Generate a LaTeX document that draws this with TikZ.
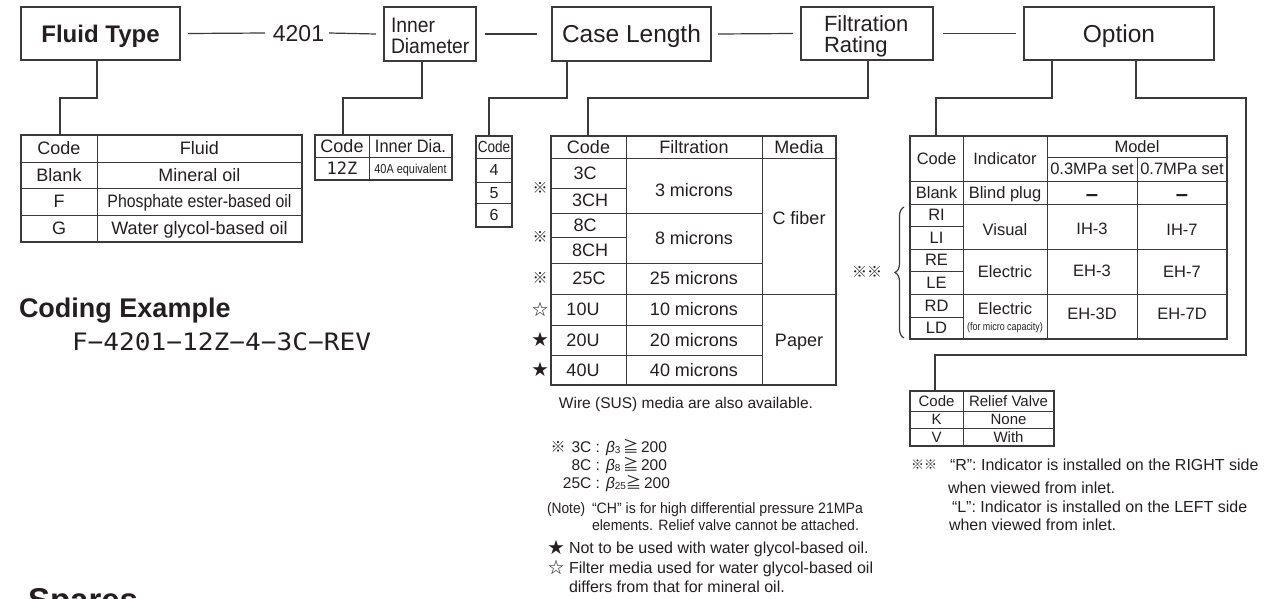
\documentclass[tikz,border=0pt]{standalone}
\usepackage{fontspec}
\usepackage{graphicx}
\setmainfont{Liberation Sans}
\newfontfamily\cjk{Noto Sans CJK JP}
\newfontfamily\monof{DejaVu Sans Mono}
\usetikzlibrary{decorations.pathreplacing,calc}
\definecolor{ink}{HTML}{231F20}
\definecolor{rule}{HTML}{3A3A3A}
\newcommand\fsz[1]{\fontsize{#1}{#1}\selectfont}
\newcommand\nar[2]{\scalebox{#1}[1]{#2}}
\newcommand\bet[1]{\textit{β}\raisebox{-1pt}{\fsz{10}#1}}
\newcommand\geqj{{\cjk ≧}}
\newcommand\T[5][]{\node[txt,sz=#2,#1] (#3) at (#4) {#5};}
\begin{document}
\begin{tikzpicture}[x=1pt,y=-1pt,
  txt/.style={inner sep=0pt,outer sep=0pt,text=ink,text depth=0pt},
  sz/.style={font={\fsz{#1}},text height={0.72*#1}},
  hbox/.style={draw=rule,line width=1.2pt,inner sep=0pt,outer sep=0pt},
  hb/.style={hbox,font={\fsz{#1}},text height={0.72*#1},text depth=0pt,text=ink},
  frame/.style={draw=rule,line width=1.1pt,inner sep=0pt,outer sep=0pt,anchor=north west},
  conn/.style={draw=rule,line width=1.2pt},
  grid/.style={draw=rule,line width=1.0pt}]
\useasboundingbox (0,0) rectangle (1265,598);

% ---------------- header ----------------
\node[hb=24,font={\bfseries\fsz{24}},minimum width=159pt,minimum height=53pt] (fluid) at (100.5,33.5) {Fluid Type};
\T{23}{n4201}{298.5,33}{4201}
\node[hbox,minimum width=92pt,minimum height=54pt] (inner) at (430,34) {};
\T[anchor=west]{21}{innerA}{391,24.5}{\nar{0.92}{Inner}}
\T[anchor=west]{21}{innerB}{391,46}{\nar{0.92}{Diameter}}
\node[hb=24.5,minimum width=159pt,minimum height=54pt] (caseb) at (631.5,34) {Case Length};
\node[hbox,minimum width=132pt,minimum height=53pt] (filt) at (867,33.5) {};
\T[anchor=west]{22}{filtA}{824,23.5}{Filtration}
\T[anchor=west]{22}{filtB}{824,45}{Rating}
\node[hb=24.5,minimum width=190pt,minimum height=53pt] (opt) at (1119,33.5) {Option};

\draw[conn] ([xshift=8pt]fluid.east) -- ([xshift=-8pt]n4201.west);
\draw[conn] ([xshift=5pt]n4201.east) -- ([xshift=-8pt]inner.west);
\draw[conn] ([xshift=9pt]inner.east) -- ([xshift=-15pt]caseb.west);
\draw[conn] ([xshift=7pt]caseb.east) -- ([xshift=-8pt]filt.west);
\draw[conn] ([xshift=10pt]filt.east) -- ([xshift=-8pt]opt.west);

% ---------------- table frames ----------------
\node[frame,minimum width=281pt,minimum height=107pt] (ftab) at (21,135) {};
\node[frame,minimum width=137pt,minimum height=45pt] (itab) at (315,135) {};
\node[frame,minimum width=36pt,minimum height=91pt] (ctab) at (476,136) {};
\node[frame,minimum width=285pt,minimum height=249pt] (ftab2) at (551,136) {};
\node[frame,minimum width=317pt,minimum height=203pt] (otab) at (910,136) {};
\node[frame,minimum width=144pt,minimum height=55pt] (rtab) at (910,391) {};

% ---------------- connectors ----------------
\draw[conn] ([xshift=-3.5pt]fluid.south) -- ++(0,38) -| ([xshift=39pt]ftab.north west);
\draw[conn] ([xshift=-8pt]inner.south) -- ++(0,37) -| ([xshift=28pt]itab.north west);
\draw[conn] ([xshift=15pt]caseb.south west) -- ++(0,37) -| ([xshift=13pt]ctab.north west);
\draw[conn] ([xshift=1pt]filt.south) -- ++(0,38) -| ([xshift=37pt]ftab2.north west);
\draw[conn] ([xshift=28pt]opt.south west) -- ++(0,38) -| ([xshift=26pt]otab.north west);
\draw[conn] ([xshift=-78pt]opt.south east) -- ++(0,38) -- ++(110,0) -- ++(0,257) -| ([xshift=25pt]rtab.north west);

% ---------------- fluid table ----------------
\draw[grid] (97,135) -- (97,242);
\foreach \y in {162,188,215} \draw[grid] (21,\y) -- (302,\y);
\T{18}{fa1}{59,148.5}{Code}
\T{18}{fa2}{199.5,148.5}{Fluid}
\T{18}{fb1}{59,175}{Blank}
\T{18}{fb2}{199.5,175}{Mineral oil}
\T{18}{fc1}{59,201.5}{F}
\T{18}{fc2}{199.5,201.5}{\nar{0.88}{Phosphate ester-based oil}}
\T{18}{fd1}{59,228.5}{G}
\T{18}{fd2}{199.5,228.5}{Water glycol-based oil}

% ---------------- inner dia table ----------------
\draw[grid] (369,135) -- (369,180);
\draw[grid] (315,157) -- (452,157);
\T{18}{ia1}{342,146}{Code}
\T{18}{ia2}{410.5,146}{\nar{0.91}{Inner Dia.}}
\T{17}{ib1}{342,168.5}{\monof 12Z}
\T{13}{ib2}{410.5,168.5}{\nar{0.84}{40A equivalent}}

% ---------------- case length table ----------------
\foreach \y in {158,182,203} \draw[grid] (476,\y) -- (512,\y);
\T{16}{ca}{494,147}{\nar{0.85}{Code}}
\T{16}{cb}{494,170}{4}
\T{16}{cc}{494,192.5}{5}
\T{16}{cd}{494,215}{6}

% ---------------- filtration table ----------------
\draw[grid] (626,136) -- (626,385);
\draw[grid] (762,136) -- (762,385);
\draw[grid] (551,158) -- (836,158);
\draw[grid] (551,294) -- (836,294);
\foreach \y in {188,237} \draw[grid] (551,\y) -- (626,\y);
\foreach \y in {213,263,325,355} \draw[grid] (551,\y) -- (762,\y);
\T{18}{ra1}{588.5,147}{Code}
\T{18}{ra2}{694,147}{Filtration}
\T{18}{ra3}{799,147}{Media}
\T{18}{rb1}{585,173}{3C}
\T{18}{rb2}{590,200.5}{3CH}
\T{18}{rb3}{694,190}{3 microns}
\T{18}{rc1}{585,225}{8C}
\T{18}{rc2}{590,250}{8CH}
\T{18}{rc3}{694,238}{8 microns}
\T{18}{rd1}{589,278.5}{25C}
\T{18}{rd2}{694,278.5}{25 microns}
\T{18}{re1}{583,309.5}{10U}
\T{18}{re2}{694,309.5}{10 microns}
\T{18}{rf1}{583,340}{20U}
\T{18}{rf2}{694,340}{20 microns}
\T{18}{rg1}{583,370}{40U}
\T{18}{rg2}{694,370}{40 microns}
\T{18}{rm1}{799,218}{C fiber}
\T{18}{rm2}{799,340}{Paper}
\T{15}{sy1}{540,188}{\cjk ※}
\T{15}{sy2}{540,237}{\cjk ※}
\T{15}{sy3}{540,278.5}{\cjk ※}
\T{16}{sy4}{540,309.5}{\cjk ☆}
\T{16}{sy5}{540,340}{\cjk ★}
\T{16}{sy6}{540,370}{\cjk ★}

% ---------------- option table ----------------
\draw[grid] (963,136) -- (963,339);
\draw[grid] (1047,136) -- (1047,339);
\draw[grid] (1137,157) -- (1137,339);
\draw[grid] (1047,157) -- (1227,157);
\foreach \y in {181,204,249,294} \draw[grid] (910,\y) -- (1227,\y);
\foreach \y in {226,271,317} \draw[grid] (910,\y) -- (963,\y);
\T{16.5}{oa1}{936.5,159}{Code}
\T{16.5}{oa2}{1005,159}{Indicator}
\T{16.5}{oa3}{1137,146.5}{Model}
\T{16.5}{oa4}{1092,169}{0.3MPa set}
\T{16.5}{oa5}{1182,169}{0.7MPa set}
\T{16.5}{ob1}{936.5,192.5}{Blank}
\T{16.5}{ob2}{1005,192.5}{Blind plug}
\T{22}{ob3}{1092,194}{\textbf{–}}
\T{22}{ob4}{1182,194}{\textbf{–}}
\T{16.5}{oc1}{936.5,215}{RI}
\T{16.5}{oc2}{936.5,238}{LI}
\T{16.5}{oc3}{1005,229.5}{Visual}
\T{16.5}{oc4}{1092,228.5}{IH-3}
\T{16.5}{oc5}{1182,230}{IH-7}
\T{16.5}{od1}{936.5,260}{RE}
\T{16.5}{od2}{936.5,283}{LE}
\T{16.5}{od3}{1005,272}{Electric}
\T{16.5}{od4}{1092,271}{EH-3}
\T{16.5}{od5}{1182,272}{EH-7}
\T{16.5}{oe1}{936.5,305.5}{RD}
\T{16.5}{oe2}{936.5,328}{LD}
\T{16.5}{oe3}{1005,308.5}{Electric}
\T{11}{oe4}{1005,327}{\nar{0.81}{(for micro capacity)}}
\T{16.5}{oe5}{1092,314}{EH-3D}
\T{16.5}{oe6}{1182,314}{EH-7D}
\draw[rule,line width=1.2pt,decorate,decoration={brace,amplitude=9pt}] (904,338) -- (904,207);
\T{15}{omark}{867,272}{\cjk ※※}

% ---------------- relief valve table ----------------
\draw[grid] (963,391) -- (963,446);
\foreach \y in {411,428} \draw[grid] (910,\y) -- (1054,\y);
\T{15}{va1}{936.5,401}{Code}
\T{15}{va2}{1008.5,401}{Relief Valve}
\T{15}{vb1}{936.5,419.5}{K}
\T{15}{vb2}{1008.5,419.5}{None}
\T{15}{vc1}{936.5,437}{V}
\T{15}{vc2}{1008.5,437}{With}

% ---------------- notes (filtration) ----------------
\T{15.5}{wire}{686,403}{Wire (SUS) media are also available.}
\T{15}{nm1}{558,447}{\cjk ※}
\T[anchor=east]{15.5}{nb1}{600,447}{3C :}
\T[anchor=west]{15.5}{nb1v}{606,447}{\bet{3}\,\geqj\,200}
\T[anchor=east]{15.5}{nb2}{600,465}{8C :}
\T[anchor=west]{15.5}{nb2v}{606,465}{\bet{8}\,\geqj\,200}
\T[anchor=east]{15.5}{nb3}{600,483}{25C :}
\T[anchor=west]{15.5}{nb3v}{606,483}{\bet{25}\geqj\,200}
\T[anchor=west]{15}{nn0}{547,508}{\nar{0.92}{(Note)}}
\T[anchor=west]{15}{nn1}{592,508}{\nar{0.94}{“CH” is for high differential pressure 21MPa}}
\T[anchor=west]{15}{nn2}{592,525}{\nar{0.94}{elements. Relief valve cannot be attached.}}
\T{16}{ns1}{556,548}{\cjk ★}
\T[anchor=west]{16}{ns1t}{569,548}{Not to be used with water glycol-based oil.}
\T{16}{ns2}{556,568}{\cjk ☆}
\T[anchor=west]{16}{ns2t}{569,568}{Filter media used for water glycol-based oil}
\T[anchor=west]{16}{ns3t}{569,587}{differs from that for mineral oil.}

% ---------------- notes (option) ----------------
\T{13}{rm}{924,465}{\cjk ※※}
\T[anchor=west]{16}{rn1}{950,465}{“R”: Indicator is installed on the RIGHT side}
\T[anchor=west]{16}{rn2}{948,488}{when viewed from inlet.}
\T[anchor=west]{16}{rn3}{952,507}{“L”: Indicator is installed on the LEFT side}
\T[anchor=west]{16}{rn4}{949,525}{when viewed from inlet.}

% ---------------- coding example ----------------
\node[txt,sz=27,font={\bfseries\fsz{27}},anchor=west] (codh) at (19,308) {Coding Example};
\node[txt,sz=24,anchor=west] (code) at (72,342) {\scalebox{1.09}[1]{\monof F−4201−12Z−4−3C−REV}};
\node[txt,sz=33,font={\bfseries\fsz{33}},anchor=west] (spares) at (28,600) {Spares};
\end{tikzpicture}
\end{document}
